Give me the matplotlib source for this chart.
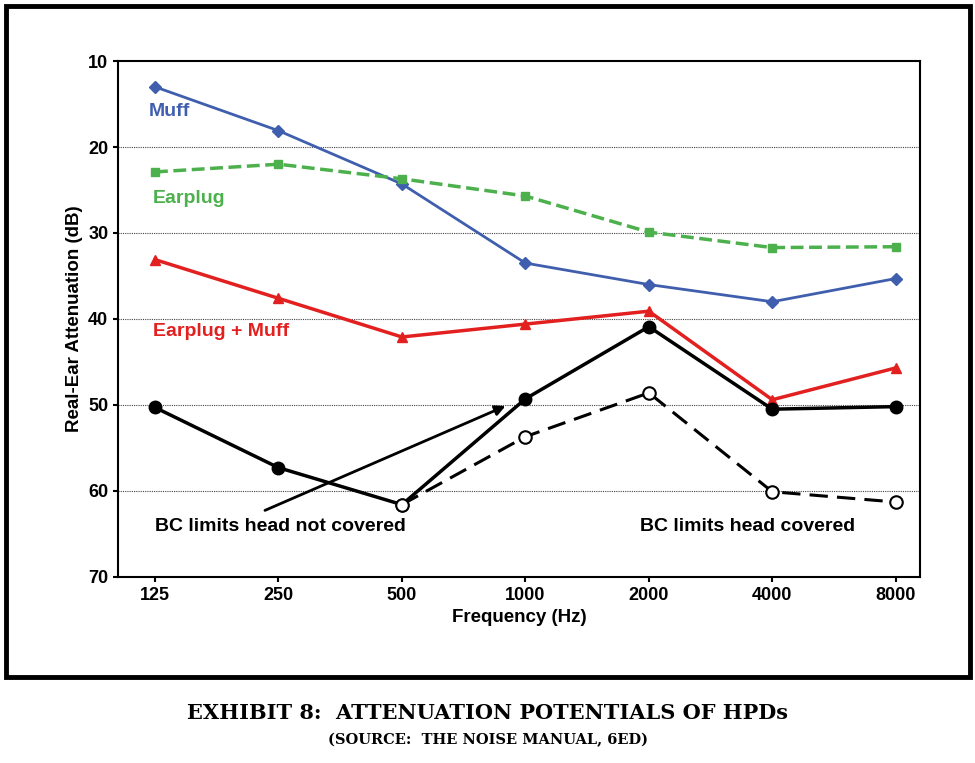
import matplotlib
matplotlib.use('Agg')
import matplotlib.pyplot as plt
from matplotlib.patches import Rectangle

plt.rcParams['font.family'] = ['Liberation Sans', 'DejaVu Sans']

freqs = ['125', '250', '500', '1000', '2000', '4000', '8000']
muff = [13.0, 18.1, 24.3, 33.5, 36.0, 38.0, 35.3]
earplug = [22.9, 22.0, 23.7, 25.7, 29.9, 31.7, 31.6]
both = [33.1, 37.6, 42.1, 40.6, 39.1, 49.4, 45.7]
bc_open = [50.3, 57.3, 61.6, 49.3, 40.9, 50.5, 50.2]
bc_cov = [61.6, 53.7, 48.6, 60.1, 61.3]

fig = plt.figure(figsize=(9.75, 7.63), dpi=100)
fig.patches.append(Rectangle((0.006, 0.113), 0.989, 0.879, transform=fig.transFigure,
                             fill=False, lw=3.5, ec='black'))
ax = fig.add_axes([0.121, 0.244, 0.823, 0.676])
x = list(range(len(freqs)))

for y in [20, 30, 40, 50, 60]:
    ax.axhline(y, color='#444444', lw=0.8, ls=(0, (1, 1)), zorder=0)

ax.plot(x, muff, color='#3f5fae', lw=2, marker='D', ms=6)
ax.plot(x, earplug, color='#4cb04c', lw=2.5, ls='--', marker='s', ms=6)
ax.plot(x, both, color='#e32020', lw=2.5, marker='^', ms=7)
ax.plot(x, bc_open, color='black', lw=2.5, marker='o', ms=9)
ax.plot(x[2:], bc_cov, color='black', lw=2.2, ls=(0, (6, 3)), marker='o', ms=9,
        mfc='white', mew=1.5)

ax.annotate('', xy=(2.86, 50.0), xytext=(0.87, 62.4),
            arrowprops=dict(arrowstyle='-|>', color='black', lw=2, mutation_scale=15))

tf = dict(fontsize=14, fontweight='bold', va='center')
ax.text(-0.05, 15.9, 'Muff', color='#3f5fae', **tf)
ax.text(-0.02, 26.0, 'Earplug', color='#4cb04c', **tf)
ax.text(-0.02, 41.5, 'Earplug + Muff', color='#e32020', **tf)
ax.text(0.0, 64.2, 'BC limits head not covered', color='black', **tf)
ax.text(3.93, 64.2, 'BC limits head covered', color='black', **tf)

ax.set_ylim(70, 10)
ax.set_xlim(-0.3, 6.2)
ax.set_yticks(range(10, 71, 10))
ax.set_xticks(x)
ax.set_xticklabels(freqs)
ax.tick_params(labelsize=13, width=1.5, direction='out')
for lab in ax.get_xticklabels() + ax.get_yticklabels():
    lab.set_fontweight('bold')
ax.set_xlabel('Frequency (Hz)', fontsize=13.5, fontweight='bold')
ax.set_ylabel('Real-Ear Attenuation (dB)', fontsize=13.5, fontweight='bold')
for s in ax.spines.values():
    s.set_linewidth(1.5)

fig.text(0.5, 0.058, 'EXHIBIT 8:  ATTENUATION POTENTIALS OF HPDs', ha='center',
         fontsize=15, fontweight='bold', family='DejaVu Serif')
fig.text(0.5, 0.025, '(SOURCE:  THE NOISE MANUAL, 6ED)', ha='center',
         fontsize=10.5, fontweight='bold', family='DejaVu Serif')

fig.savefig('out.png', dpi=100)
